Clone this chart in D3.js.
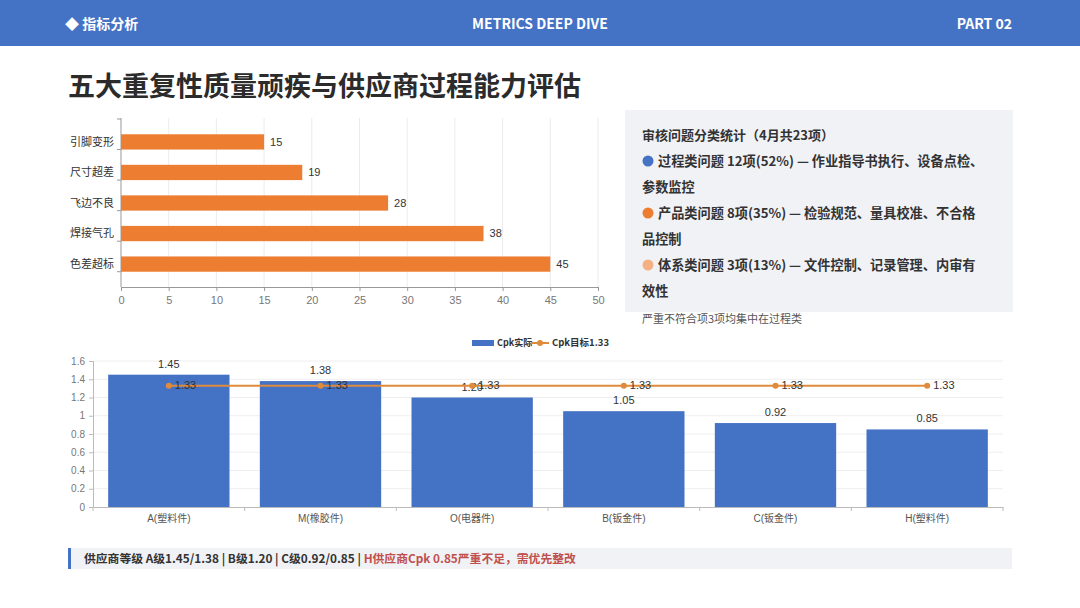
<!DOCTYPE html>
<html>
<head>
<meta charset="utf-8">
<script src="https://cdn.jsdelivr.net/npm/d3@7"></script>
<style>
  body { margin: 0; background: #fff; }
  svg { display: block; font-family: "Noto Sans CJK SC", "Noto Sans", sans-serif; }
</style>
</head>
<body>
<script>
// defect counts (top chart)
const defectNames = ["引脚变形", "尺寸超差", "飞边不良", "焊接气孔", "色差超标"]
const defectCounts = [15, 19, 28, 38, 45]
const defectTicks = [0, 5, 10, 15, 20, 25, 30, 35, 40, 45, 50]

// supplier Cpk (bottom chart)
const suppliers = ["A(塑料件)", "M(橡胶件)", "O(电器件)", "B(钣金件)", "C(钣金件)", "H(塑料件)"]
const cpkActual = [1.45, 1.38, 1.20, 1.05, 0.92, 0.85]
const cpkTarget = [1.33, 1.33, 1.33, 1.33, 1.33, 1.33]
const cpkTicks = [0, 0.2, 0.4, 0.6, 0.8, 1, 1.2, 1.4, 1.6]

// audit issue panel
const issueLines = [
  {dot: "#4472C4", text: "过程类问题 12项(52%) — 作业指导书执行、设备点检、"},
  {dot: null, text: "参数监控"},
  {dot: "#ED7D31", text: "产品类问题 8项(35%) — 检验规范、量具校准、不合格"},
  {dot: null, text: "品控制"},
  {dot: "#F4B183", text: "体系类问题 3项(13%) — 文件控制、记录管理、内审有"},
  {dot: null, text: "效性"}
]

const w = 1080, h = 608
const blue = "#4472C4", orange = "#ED7D31", lineColor = "#E08A3C"
const chartFont = "'Liberation Sans', 'Noto Sans CJK SC', sans-serif"

const svg = d3.select("body").append("svg").attr("width", w).attr("height", h)

// header band
svg.append("rect").attr("x", 0).attr("y", 0).attr("width", w).attr("height", 46).attr("fill", blue)
svg.append("text").attr("x", 65).attr("y", 29).attr("fill", "#fff")
  .attr("font-size", 14).attr("font-weight", "bold").text("◆ 指标分析")
svg.append("text").attr("x", 540).attr("y", 29).attr("fill", "#fff").attr("text-anchor", "middle")
  .attr("font-size", 14).attr("font-weight", "bold").text("METRICS DEEP DIVE")
svg.append("text").attr("x", 1012).attr("y", 29).attr("fill", "#fff").attr("text-anchor", "end")
  .attr("font-size", 14).attr("font-weight", "bold").text("PART 02")

// title
svg.append("text").attr("x", 68).attr("y", 96).attr("fill", "#2b2b2b")
  .attr("font-size", 27).attr("font-weight", "bold").text("五大重复性质量顽疾与供应商过程能力评估")

// ---- top: horizontal bar chart ----
const x1 = d3.scaleLinear().domain([0, 50]).range([121, 598])
const y1 = d3.scaleBand().domain(defectNames).range([119, 287]).padding(0.5)

const g1 = svg.append("g").style("font-family", chartFont)

g1.selectAll("line.grid").data(defectTicks.slice(1)).enter().append("line")
  .attr("x1", d => x1(d)).attr("x2", d => x1(d))
  .attr("y1", 118).attr("y2", 287).attr("stroke", "#ececec")

g1.selectAll("rect.bar").data(defectCounts).enter().append("rect")
  .attr("x", x1(0)).attr("y", (d, i) => y1(defectNames[i]))
  .attr("width", d => x1(d) - x1(0)).attr("height", y1.bandwidth())
  .attr("fill", orange)

g1.selectAll("text.val").data(defectCounts).enter().append("text")
  .attr("x", d => x1(d) + 6).attr("y", (d, i) => y1(defectNames[i]) + y1.bandwidth() / 2)
  .attr("dy", "0.35em").attr("font-size", 11).attr("fill", "#333").text(d => d)

const xAxis1 = g1.append("g").attr("transform", "translate(0,287)")
  .call(d3.axisBottom(x1).tickValues(defectTicks).tickSize(4).tickPadding(5))
xAxis1.select(".domain").attr("stroke", "#999")
xAxis1.selectAll(".tick line").attr("stroke", "#999")
xAxis1.selectAll("text").attr("font-size", 11).attr("fill", "#777").style("font-family", chartFont)

// left axis with ticks on band edges
g1.append("line").attr("x1", 121).attr("x2", 121).attr("y1", 118).attr("y2", 287).attr("stroke", "#999")
const bandEdges = d3.range(defectNames.length + 1).map(i => 119 + i * y1.step())
g1.selectAll("line.yt").data(bandEdges).enter().append("line")
  .attr("x1", 117).attr("x2", 121).attr("y1", d => d).attr("y2", d => d).attr("stroke", "#999")
g1.selectAll("text.cat").data(defectNames).enter().append("text")
  .attr("x", 114).attr("y", d => y1(d) + y1.bandwidth() / 2).attr("dy", "0.35em")
  .attr("text-anchor", "end").attr("font-size", 11).attr("fill", "#333")
  .style("font-family", "'Noto Sans CJK SC', sans-serif").text(d => d)

// ---- right: info panel ----
svg.append("rect").attr("x", 625).attr("y", 110).attr("width", 388).attr("height", 202).attr("fill", "#f1f2f6")
svg.append("text").attr("x", 642).attr("y", 140).attr("font-size", 13).attr("font-weight", "bold")
  .attr("fill", "#333").text("审核问题分类统计（4月共23项）")
issueLines.forEach((d, i) => {
  const yy = 166 + i * 26
  if (d.dot) {
    svg.append("circle").attr("cx", 648).attr("cy", yy - 5).attr("r", 5.5).attr("fill", d.dot)
  }
  svg.append("text").attr("x", d.dot ? 658 : 642).attr("y", yy).attr("font-size", 13.2)
    .attr("font-weight", "bold").attr("fill", "#333").text(d.text)
})
svg.append("text").attr("x", 642).attr("y", 323).attr("font-size", 11).attr("fill", "#555")
  .text("严重不符合项3项均集中在过程类")

// ---- bottom: Cpk combo chart ----
const x2 = d3.scaleBand().domain(suppliers).range([93, 1003]).paddingInner(0.2).paddingOuter(0.1)
const y2 = d3.scaleLinear().domain([0, 1.6]).range([507, 361])

const g2 = svg.append("g").style("font-family", chartFont)

g2.selectAll("line.grid").data(cpkTicks.slice(1)).enter().append("line")
  .attr("x1", 93).attr("x2", 1003).attr("y1", d => y2(d)).attr("y2", d => y2(d)).attr("stroke", "#eeeeee")

g2.selectAll("rect.bar").data(cpkActual).enter().append("rect")
  .attr("x", (d, i) => x2(suppliers[i])).attr("y", d => y2(d))
  .attr("width", x2.bandwidth()).attr("height", d => y2(0) - y2(d)).attr("fill", blue)

g2.selectAll("text.val").data(cpkActual).enter().append("text")
  .attr("x", (d, i) => x2(suppliers[i]) + x2.bandwidth() / 2).attr("y", d => y2(d) - 7)
  .attr("text-anchor", "middle").attr("font-size", 11).attr("fill", "#333").text(d => d.toFixed(2))

const cx = i => x2(suppliers[i]) + x2.bandwidth() / 2
const line = d3.line().x((d, i) => cx(i)).y(d => y2(d))
g2.append("path").datum(cpkTarget).attr("d", line).attr("fill", "none")
  .attr("stroke", lineColor).attr("stroke-width", 2)
g2.selectAll("circle.pt").data(cpkTarget).enter().append("circle")
  .attr("cx", (d, i) => cx(i)).attr("cy", d => y2(d)).attr("r", 3).attr("fill", lineColor)
g2.selectAll("text.tgt").data(cpkTarget).enter().append("text")
  .attr("x", (d, i) => cx(i) + 6).attr("y", d => y2(d)).attr("dy", "0.35em")
  .attr("font-size", 11).attr("fill", "#333").text(d => d.toFixed(2))

const yAxis2 = g2.append("g").attr("transform", "translate(93,0)")
  .call(d3.axisLeft(y2).tickValues(cpkTicks).tickSize(4).tickPadding(4).tickFormat(d3.format("~g")))
yAxis2.select(".domain").attr("stroke", "#bbb")
yAxis2.selectAll(".tick line").attr("stroke", "#bbb")
yAxis2.selectAll("text").attr("font-size", 10).attr("fill", "#777").style("font-family", chartFont)

const xAxis2 = g2.append("g").attr("transform", "translate(0,507)")
  .call(d3.axisBottom(x2).tickSize(0).tickPadding(8))
xAxis2.select(".domain").attr("stroke", "#bbb")
xAxis2.selectAll("text").attr("font-size", 10).attr("fill", "#555").style("font-family", chartFont)
const colEdges = d3.range(suppliers.length + 1).map(i => 93 + i * x2.step())
g2.selectAll("line.xt").data(colEdges).enter().append("line")
  .attr("x1", d => d).attr("x2", d => d).attr("y1", 507).attr("y2", 511).attr("stroke", "#bbb")

// legend
const lg = svg.append("g").style("font-family", "'Noto Sans CJK SC', sans-serif")
lg.append("rect").attr("x", 472).attr("y", 340).attr("width", 22).attr("height", 6).attr("fill", blue)
lg.append("text").attr("x", 497).attr("y", 343).attr("dy", "0.35em").attr("font-size", 9)
  .attr("font-weight", "bold").attr("fill", "#333").text("Cpk实际")
lg.append("line").attr("x1", 531).attr("x2", 549).attr("y1", 343).attr("y2", 343)
  .attr("stroke", lineColor).attr("stroke-width", 2)
lg.append("circle").attr("cx", 540).attr("cy", 343).attr("r", 3).attr("fill", lineColor)
lg.append("text").attr("x", 552).attr("y", 343).attr("dy", "0.35em").attr("font-size", 9.5)
  .attr("font-weight", "bold").attr("fill", "#333").text("Cpk目标1.33")

// bottom note
svg.append("rect").attr("x", 68).attr("y", 548).attr("width", 944).attr("height", 21).attr("fill", "#f1f2f6")
svg.append("rect").attr("x", 68).attr("y", 548).attr("width", 3).attr("height", 21).attr("fill", blue)
const note = svg.append("text").attr("x", 84).attr("y", 559).attr("dy", "0.35em")
  .attr("font-size", 11.8).attr("font-weight", "bold")
note.append("tspan").attr("fill", "#333").text("供应商等级 A级1.45/1.38 | B级1.20 | C级0.92/0.85 | ")
note.append("tspan").attr("fill", "#C0504D").text("H供应商Cpk 0.85严重不足，需优先整改")
</script>
</body>
</html>
